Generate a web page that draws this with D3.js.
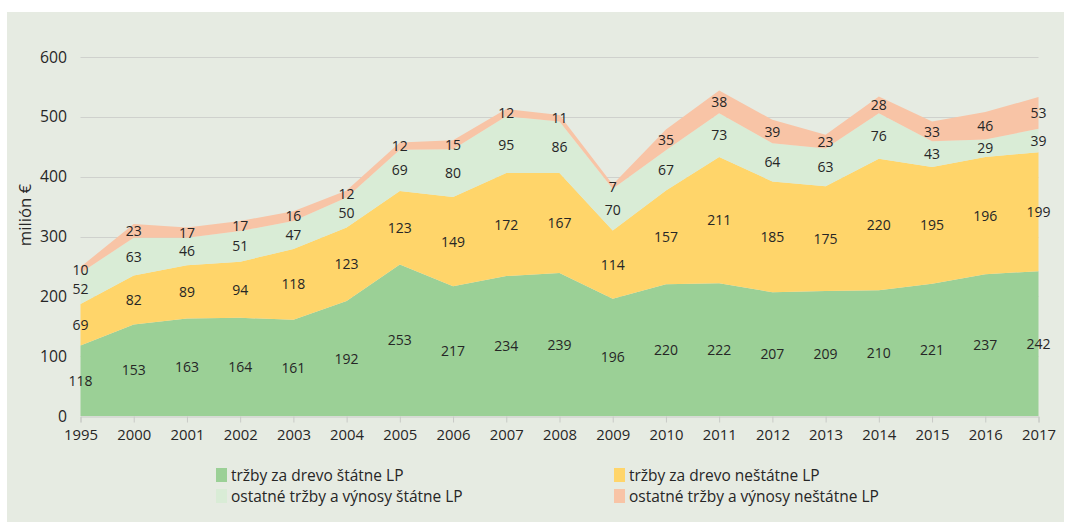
<!DOCTYPE html>
<html>
<head>
<meta charset="utf-8">
<script src="https://cdn.jsdelivr.net/npm/d3@7"></script>
<style>
  body { margin: 0; background: #fff; }
  svg { display: block; font-family: "Open Sans", sans-serif; }
</style>
</head>
<body>
<div id="chart"></div>
<script>
const years = ['1995','2000','2001','2002','2003','2004','2005','2006','2007','2008','2009','2010','2011','2012','2013','2014','2015','2016','2017']
const drevoStatne = [118,153,163,164,161,192,253,217,234,239,196,220,222,207,209,210,221,237,242]
const drevoNestatne = [69,82,89,94,118,123,123,149,172,167,114,157,211,185,175,220,195,196,199]
const ostatneStatne = [52,63,46,51,47,50,69,80,95,86,70,67,73,64,63,76,43,29,39]
const ostatneNestatne = [10,23,17,17,16,12,12,15,12,11,7,35,38,39,23,28,33,46,53]
const seriesNames = ['tržby za drevo štátne LP','tržby za drevo neštátne LP','ostatné tržby a výnosy štátne LP','ostatné tržby a výnosy neštátne LP']
const colors = ['#9bd096','#ffd56a','#d9ecd6','#f8c4a6']
const yTicks = [0,100,200,300,400,500,600]

const w = 1065, h = 522
const x0 = 80.5, x1 = 1038.5, yTop = 57, yBot = 416

const svg = d3.select('#chart').append('svg').attr('width', w).attr('height', h)

// font size such that a string gets a given width
function fitSize(str, width){
    let t = svg.append('text').attr('font-size', 100).text(str)
    let len = t.node().getComputedTextLength()
    t.remove()
    return 100 * width / len
}
const xTickSize = fitSize('1995', 34)
const yTickSize = fitSize('600', 27)
const labelSize = fitSize('118', 24)
const legendSize = fitSize('ostatné tržby a výnosy neštátne LP', 250)

svg.append('rect').attr('x', 7).attr('y', 12).attr('width', w - 8).attr('height', h - 12).attr('fill', '#e6ebe2')

const rows = years.map(function(y, i){
    return {year: y, s0: drevoStatne[i], s1: drevoNestatne[i], s2: ostatneStatne[i], s3: ostatneNestatne[i]}
})
const stack = d3.stack().keys(['s0','s1','s2','s3'])(rows)

const xScale = d3.scalePoint().domain(years).range([x0, x1])
const yScale = d3.scaleLinear().domain([0, 600]).range([yBot, yTop])

// grid
svg.append('g').selectAll('line').data(yTicks.slice(1)).enter().append('line')
    .attr('x1', x0).attr('x2', x1)
    .attr('y1', d => Math.round(yScale(d)) + 0.5).attr('y2', d => Math.round(yScale(d)) + 0.5)
    .attr('stroke', '#cfd1cd').attr('stroke-width', 1)

const area = d3.area()
    .x(d => xScale(d.data.year))
    .y0(d => yScale(d[0]))
    .y1(d => yScale(d[1]))

svg.append('g').selectAll('path').data(stack).enter().append('path')
    .attr('d', area)
    .attr('fill', (d, i) => colors[i])

// x axis
const xAxis = svg.append('g').attr('transform', 'translate(0,' + (yBot + 0.5) + ')')
    .call(d3.axisBottom(xScale).tickSize(6).tickPadding(7))
xAxis.select('.domain').attr('stroke', '#c8cac6')
xAxis.selectAll('.tick line').attr('stroke', '#c8cac6')
xAxis.selectAll('.tick text').attr('font-size', xTickSize).attr('fill', '#262626').attr('font-family', '"Open Sans", sans-serif')

// y axis labels
svg.append('g').selectAll('text').data(yTicks).enter().append('text')
    .attr('x', 67).attr('y', d => yScale(d) + yTickSize * 0.36)
    .attr('text-anchor', 'end')
    .attr('font-size', yTickSize).attr('fill', '#262626')
    .text(d => d)

svg.append('text')
    .attr('transform', 'translate(31,215) rotate(-90)')
    .attr('text-anchor', 'middle').attr('font-size', yTickSize + 1).attr('fill', '#262626')
    .text('milión €')

// data labels at band middles
stack.forEach(function(s){
    svg.append('g').selectAll('text').data(s).enter().append('text')
        .attr('x', d => xScale(d.data.year))
        .attr('y', d => yScale((d[0] + d[1]) / 2) + labelSize * 0.36)
        .attr('text-anchor', 'middle')
        .attr('font-size', labelSize).attr('fill', '#262626')
        .text(d => d[1] - d[0])
})

// legend
const legendPos = [[216, 475],[614, 475],[216, 496],[614, 496]]
const lg = svg.append('g')
seriesNames.forEach(function(name, i){
    lg.append('rect').attr('x', legendPos[i][0]).attr('y', legendPos[i][1] - 7).attr('width', 11).attr('height', 14).attr('fill', colors[i])
    lg.append('text').attr('x', legendPos[i][0] + 15).attr('y', legendPos[i][1] + legendSize * 0.36)
        .attr('font-size', legendSize).attr('fill', '#262626').text(name)
})
</script>
</body>
</html>
